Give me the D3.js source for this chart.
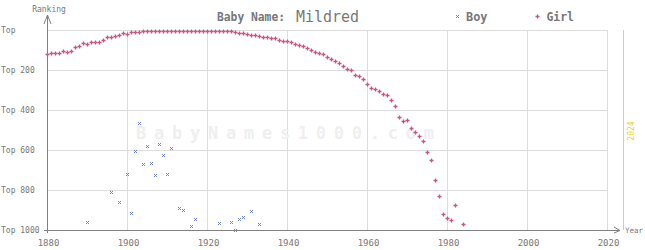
<!DOCTYPE html>
<html><head><meta charset="utf-8">
<script src="https://cdn.jsdelivr.net/npm/d3@7"></script>
<style>html,body{margin:0;padding:0;background:#fff;}svg{display:block;}</style>
</head><body>
<script>
const girlYears = [1880,1881,1882,1883,1884,1885,1886,1887,1888,1889,1890,1891,1892,1893,1894,1895,1896,1897,1898,1899,
  1900,1901,1902,1903,1904,1905,1906,1907,1908,1909,1910,1911,1912,1913,1914,1915,1916,1917,1918,1919,
  1920,1921,1922,1923,1924,1925,1926,1927,1928,1929,1930,1931,1932,1933,1934,1935,1936,1937,1938,1939,
  1940,1941,1942,1943,1944,1945,1946,1947,1948,1949,1950,1951,1952,1953,1954,1955,1956,1957,1958,1959,
  1960,1961,1962,1963,1964,1965,1966,1967,1968,1969,1970,1971,1972,1973,1974,1975,1976,1977,1978,1979,
  1980,1981,1982,1984];
const girlRanks = [122,117,117,117,107,112,107,87,82,67,72,62,62,62,52,37,37,32,27,17,
  22,12,12,12,7,7,6,6,6,6,6,6,6,6,6,6,6,6,6,6,
  6,6,6,6,6,6,6,12,17,17,22,27,26,31,37,37,42,42,52,57,
  57,62,70,75,80,90,100,110,115,120,135,145,155,165,180,195,200,225,230,245,
  270,290,295,305,320,325,350,380,435,455,450,490,510,530,555,610,650,750,830,920,
  940,950,875,970];
const boyYears = [1890,1896,1898,1900,1901,1902,1903,1904,1905,1906,1907,1908,1909,1910,1911,1913,1914,1916,1917,1923,1926,1927,1928,1929,1931,1933];
const boyRanks = [960,810,860,720,915,605,465,670,580,665,725,570,625,720,590,890,900,980,945,965,960,1000,945,935,905,970];
const xTicks = [1880,1900,1920,1940,1960,1980,2000,2020];
const yTicks = [0,200,400,600,800,1000];
const yTickLabels = ["Top","Top 200","Top 400","Top 600","Top 800","Top 1000"];
const currentYear = 2024;

const W = 645, H = 250;
const girlColor = "#c8557f", boyColor = "#7088cc", gridColor = "#dddddd", axisColor = "#808080", textColor = "#777777";
const font = "'DejaVu Sans Mono', monospace";

const svg = d3.select("body").append("svg").attr("width", W).attr("height", H);
svg.append("rect").attr("width", W).attr("height", H).attr("fill", "#fff");

const x = d3.scaleLinear().domain([1880, 2020]).range([47, 607]);
const y = d3.scaleLinear().domain([0, 1000]).range([30, 230]);

// grid
const g = svg.append("g").attr("shape-rendering", "crispEdges");
g.selectAll(".hg").data(yTicks.slice(0, -1)).join("line")
  .attr("x1", x(1880)).attr("x2", x(2020))
  .attr("y1", d => y(d) + 0.5).attr("y2", d => y(d) + 0.5)
  .attr("stroke", gridColor);
g.selectAll(".vg").data(xTicks.slice(1)).join("line")
  .attr("x1", d => x(d) + 0.5).attr("x2", d => x(d) + 0.5)
  .attr("y1", y(0)).attr("y2", y(1000))
  .attr("stroke", gridColor);

// watermark
svg.append("text").attr("x", 136).attr("y", 139)
  .attr("font-family", font).attr("font-size", 17).attr("font-weight", "bold")
  .attr("fill", "#efefef").attr("textLength", 298).attr("lengthAdjust", "spacing")
  .text("BabyNames1000.com");

// current year line
svg.append("line").attr("x1", x(currentYear) + 0.5).attr("x2", x(currentYear) + 0.5)
  .attr("y1", y(0)).attr("y2", y(1000)).attr("stroke", "#f5d628").attr("shape-rendering", "crispEdges");
svg.append("text").attr("transform", `translate(${x(currentYear) + 11},${(y(0) + y(1000)) / 2 + 1}) rotate(-90)`)
  .attr("text-anchor", "middle").attr("font-family", font).attr("font-size", 8)
  .attr("fill", "#f0d020").text(String(currentYear));

// markers
const plus = "M-1.5,0.5H2.5M0.5,-1.5V2.5";
const cross = "M-1,-1L2,2M-1,2L2,-1";
svg.append("g").selectAll("path").data(girlYears.map((d, i) => [d, girlRanks[i]])).join("path")
  .attr("transform", d => `translate(${x(d[0])},${Math.round(y(d[1]))})`)
  .attr("d", plus).attr("stroke", girlColor).attr("stroke-width", 1.3).attr("fill", "none");
svg.append("g").selectAll("path").data(boyYears.map((d, i) => [d, boyRanks[i]])).join("path")
  .attr("transform", d => `translate(${x(d[0])},${Math.round(y(d[1]))})`)
  .attr("d", cross).attr("stroke", boyColor).attr("stroke-width", 1).attr("fill", "none");

// axes
const ax = svg.append("g").attr("stroke", axisColor).attr("fill", "none");
ax.append("line").attr("x1", x(1880) + 0.5).attr("x2", x(1880) + 0.5).attr("y1", 15).attr("y2", y(1000) + 3).attr("shape-rendering", "crispEdges");
ax.append("path").attr("d", `M${x(1880) - 3},24L${x(1880) + 0.5},15L${x(1880) + 4},24`);
ax.append("line").attr("x1", x(1880) - 3).attr("x2", 620).attr("y1", y(1000) + 0.5).attr("y2", y(1000) + 0.5).attr("shape-rendering", "crispEdges");
ax.append("path").attr("d", `M614,227L620,${y(1000) + 0.5}L614,233`);

// tick labels
svg.append("g").selectAll("text").data(xTicks).join("text")
  .attr("x", d => x(d) + 1.5).attr("y", 246).attr("text-anchor", "middle")
  .attr("font-family", font).attr("font-size", 9).attr("fill", textColor).text(d => d);
svg.append("g").selectAll("text").data(yTicks).join("text")
  .attr("x", 1).attr("y", d => y(d) + 3)
  .attr("font-family", font).attr("font-size", 8).attr("fill", textColor).text((d, i) => yTickLabels[i]);

svg.append("text").attr("x", 49).attr("y", 12).attr("text-anchor", "middle")
  .attr("font-family", font).attr("font-size", 8).attr("fill", textColor).text("Ranking");
svg.append("text").attr("x", 625).attr("y", 233)
  .attr("font-family", font).attr("font-size", 7.5).attr("fill", textColor).text("Year");

// title
svg.append("text").attr("x", 217).attr("y", 21)
  .attr("font-family", font).attr("font-size", 11.5).attr("font-weight", "bold").attr("fill", textColor)
  .attr("textLength", 68).attr("lengthAdjust", "spacingAndGlyphs").text("Baby Name:");
svg.append("text").attr("x", 296).attr("y", 22)
  .attr("font-family", font).attr("font-size", 15).attr("fill", textColor)
  .attr("textLength", 63).attr("lengthAdjust", "spacingAndGlyphs").text("Mildred");

// legend
svg.append("path").attr("transform", "translate(457,16)").attr("d", cross).attr("stroke", boyColor).attr("fill", "none");
svg.append("text").attr("x", 466).attr("y", 21)
  .attr("font-family", font).attr("font-size", 12).attr("font-weight", "bold").attr("fill", textColor)
  .attr("textLength", 21.5).attr("lengthAdjust", "spacingAndGlyphs").text("Boy");
svg.append("path").attr("transform", "translate(537,16)").attr("d", plus).attr("stroke", girlColor).attr("stroke-width", 1.3).attr("fill", "none");
svg.append("text").attr("x", 546.5).attr("y", 21)
  .attr("font-family", font).attr("font-size", 12).attr("font-weight", "bold").attr("fill", textColor)
  .attr("textLength", 27.5).attr("lengthAdjust", "spacingAndGlyphs").text("Girl");
</script>
</body></html>
